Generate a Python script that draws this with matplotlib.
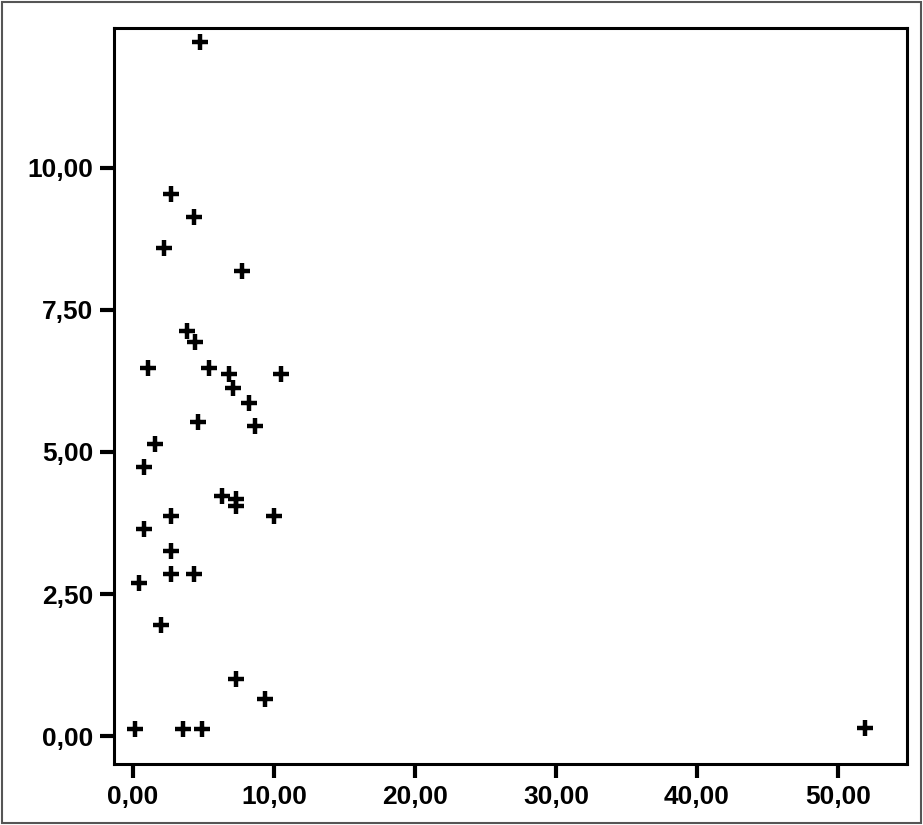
import matplotlib.pyplot as plt
from matplotlib.patches import Rectangle
from matplotlib.ticker import FuncFormatter

# values
x_vals = [4.75, 2.70, 4.35, 2.20, 7.75, 3.81, 4.40, 1.09, 5.41, 6.78, 10.50, 7.11,
          8.23, 4.59, 8.65, 1.56, 0.78, 6.29, 7.28, 7.28, 10.00, 2.67, 0.80, 2.67,
          2.67, 4.35, 0.43, 2.01, 7.28, 9.36, 0.14, 3.57, 4.91, 51.90]
y_vals = [12.21, 9.54, 9.14, 8.59, 8.19, 7.13, 6.94, 6.48, 6.48, 6.37, 6.37, 6.12,
          5.86, 5.52, 5.46, 5.14, 4.74, 4.23, 4.17, 4.05, 3.88, 3.88, 3.65, 3.26,
          2.86, 2.86, 2.70, 1.95, 1.00, 0.65, 0.13, 0.13, 0.13, 0.15]
x_ticks = [0, 10, 20, 30, 40, 50]
y_ticks = [0, 2.5, 5, 7.5, 10]

plt.rcParams['font.family'] = ['Liberation Sans Narrow', 'Liberation Sans', 'DejaVu Sans']

fig = plt.figure(figsize=(9.23, 8.25), dpi=100)
ax = fig.add_axes([114 / 923, 1 - 764 / 825, (907 - 114) / 923, (764 - 28) / 825])

ax.plot(x_vals, y_vals, linestyle='none', marker='+', markersize=11,
        markeredgewidth=3.2, color='black')

ax.set_xlim(-1.35, 54.9)
ax.set_ylim(-0.49, 12.46)
ax.set_xticks(x_ticks)
ax.set_yticks(y_ticks)
fmt = FuncFormatter(lambda v, p: ('%.2f' % v).replace('.', ','))
ax.xaxis.set_major_formatter(fmt)
ax.yaxis.set_major_formatter(fmt)
ax.tick_params(axis='both', direction='out', width=3, length=10, color='black',
               labelsize=19, pad=5)
for lab in ax.get_xticklabels() + ax.get_yticklabels():
    lab.set_fontweight('bold')

for s in ax.spines.values():
    s.set_linewidth(2.2)
    s.set_color('black')

# outer frame around the whole picture
fig.patches.append(Rectangle((0.002, 0.002), 0.996, 0.996, transform=fig.transFigure,
                             fill=False, edgecolor='#555555', linewidth=1.5))

fig.savefig('out.png', dpi=100)
